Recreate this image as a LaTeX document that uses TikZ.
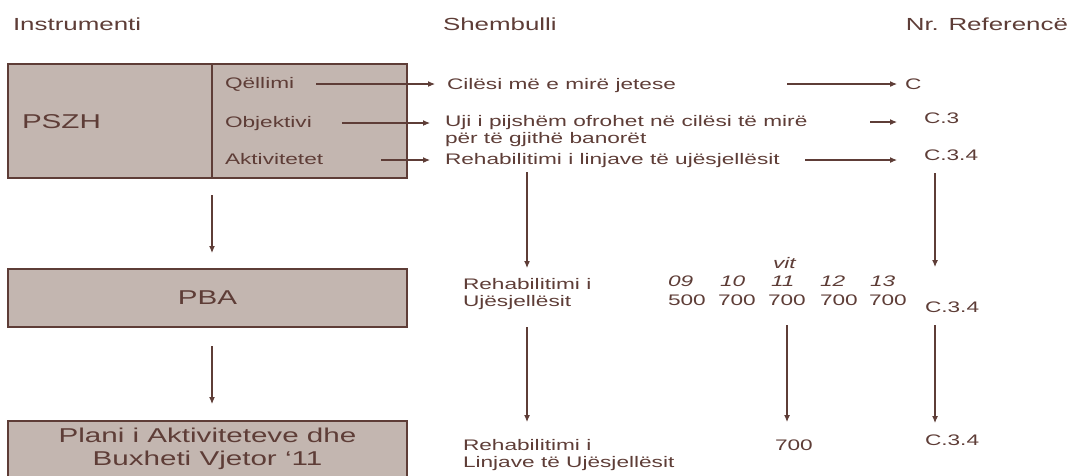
\documentclass[tikz,border=0pt]{standalone}
\usepackage{fontspec}
\setmainfont{Liberation Sans}[FakeStretch=1.48]
\usetikzlibrary{arrows.meta,positioning}
\definecolor{brn}{HTML}{5E3D37}
\definecolor{boxfill}{HTML}{C3B6B0}

\begin{document}
\begin{tikzpicture}[x=1pt,y=-1pt,->,>={Latex[length=7pt,width=6pt]},line width=1.1pt,
  draw=brn,text=brn,font=\fontsize{15.3}{17}\selectfont,
  every node/.style={inner sep=0pt,outer sep=0pt,anchor=base west,align=left},
  box/.style={draw=brn,fill=boxfill,line width=1.5pt},
  head/.style={font=\fontsize{17.5}{20}\selectfont},
  yr/.style={font=\fontsize{15.3}{17}\itshape}]
  \useasboundingbox (0,0) rectangle (1073,475);
  % headings
  \node[head] (h1) at (13,30) {Instrumenti};
  \node[head] (h2) at (443,30) {Shembulli};
  \node[head,anchor=base east] (h3) at (1068,30) {Nr. Referencë};
  % instrument boxes
  \draw[-,box] (8,64) rectangle (407,178);
  \draw[-,brn,line width=1.5pt] (212,64) -- (212,178);
  \node[font=\fontsize{20}{24}\selectfont] (pszh) at (22,128) {PSZH};
  \node[anchor=center,draw=brn,fill=boxfill,line width=1.5pt,minimum width=399pt,minimum height=58pt,
        font=\fontsize{20}{24}\selectfont] (pba) at (207.5,298) {PBA};
  \draw[-,box] (8,421) rectangle (407,480);
  \node[anchor=center,align=center,font=\fontsize{20}{23}\selectfont] (plani) at (207.5,449)
    {Plani i Aktiviteteve dhe\\Buxheti Vjetor ‘11};
  \coordinate (div1) at (212,195);
  \coordinate (div2) at (212,253);
  \coordinate (div3) at (212,346);
  \coordinate (div4) at (212,404);
  \draw (div1) -- (div2);
  \draw (div3) -- (div4);
  % levels
  \node (qel) at (225,88) {Qëllimi};
  \node (obj) at (225,127) {Objektivi};
  \node (akt) at (225,164) {Aktivitetet};
  % examples
  \node (cil) at (447,89) {Cilësi më e mirë jetese};
  \node (uji) at (445,143) {Uji i pijshëm ofrohet në cilësi të mirë\\për të gjithë banorët};
  \node (reh) at (445,164) {Rehabilitimi i linjave të ujësjellësit};
  \node (reh2) at (463,306) {Rehabilitimi i\\Ujësjellësit};
  \node (reh3) at (463,467) {Rehabilitimi i\\Linjave të Ujësjellësit};
  % years
  \node[yr] (vit) at (773,268) {vit};
  \node[yr] (y09) at (668,286) {09};
  \node[yr] (y10) at (720,286) {10};
  \node[yr] (y11) at (771,286) {11};
  \node[yr] (y12) at (820,286) {12};
  \node[yr] (y13) at (870,286) {13};
  \node (v09) at (668,305) {500};
  \node (v10) at (718,305) {700};
  \node (v11) at (768,305) {700};
  \node (v12) at (820,305) {700};
  \node (v13) at (869,305) {700};
  \node (v11b) at (775,450) {700};
  % references
  \node (c) at (905,89) {C};
  \node (c3) at (924,123) {C.3};
  \node (c34) at (924,160) {C.3.4};
  \node (c34b) at (925,312) {C.3.4};
  \node (c34c) at (925,445) {C.3.4};
  % arrows
  \draw[shorten <=22pt,shorten >=12pt] (qel.east |- 0,84) -- (cil.west |- 0,84);
  \draw[shorten <=30pt,shorten >=15pt] (obj.east |- 0,123) -- (uji.west |- 0,123);
  \draw[shorten <=58pt,shorten >=15pt] (akt.east |- 0,160) -- (reh.west |- 0,160);
  \draw[shorten >=8pt] (787,84) -- (c.west |- 0,84);
  \draw[shorten >=27pt] (870,122) -- (c3.west |- 0,122);
  \draw[shorten >=27pt] (805,160) -- (c34.west |- 0,160);
  \draw (reh.south -| 527,0) ++(0,5) -- (527,268);
  \draw (935,173) -- (935,267);
  \draw (527,327) -- (527,422);
  \draw (787,325) -- (787,422);
  \draw (935,325) -- (935,423);
\end{tikzpicture}
\end{document}
